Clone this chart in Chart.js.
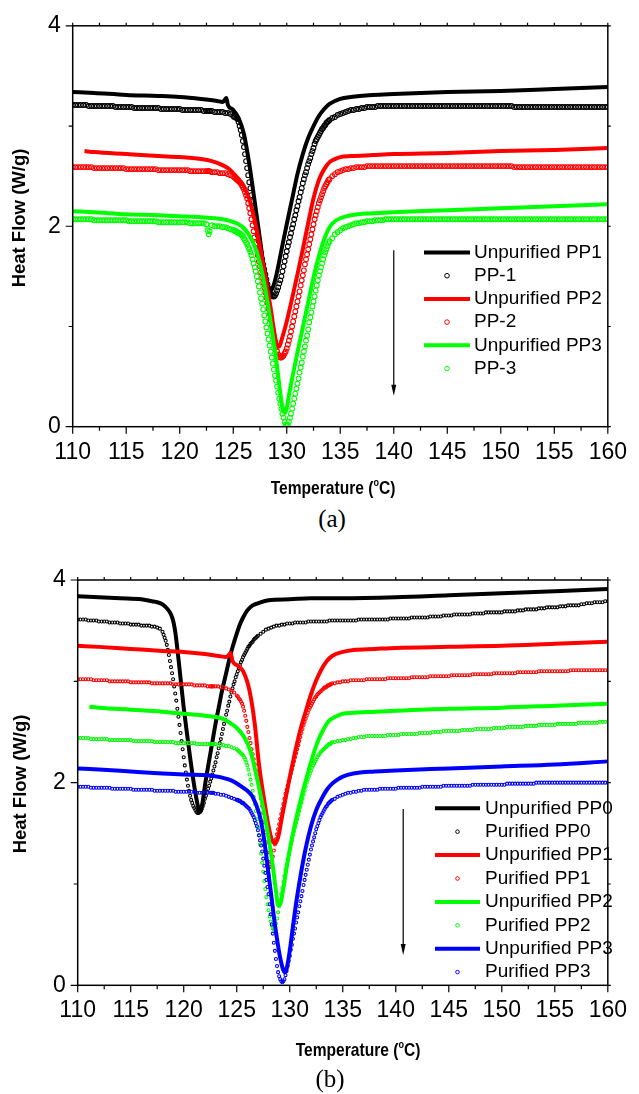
<!DOCTYPE html>
<html>
<head>
<meta charset="utf-8">
<script src="https://cdn.jsdelivr.net/npm/chart.js@4.4.0/dist/chart.umd.min.js"></script>
<style>
  html, body { margin: 0; padding: 0; background: #fff; }
  body { width: 639px; height: 1094px; position: relative; overflow: hidden; }
  canvas { position: absolute; left: 0; }
  #chartA { top: 0; }
  #chartB { top: 550px; }
  .caption { position: absolute; width: 100px; text-align: center; line-height: 30px;
             font: 25px "Liberation Serif", "Times New Roman", serif; color: #000; }
</style>
</head>
<body>
<canvas id="chartA" width="639" height="505"></canvas>
<canvas id="chartB" width="639" height="520"></canvas>
<div class="caption" style="left:282px; top:505px;">(a)</div>
<div class="caption" style="left:280px; top:1065px;">(b)</div>
<script>
// temperature grid used by the circle (measured point) series
const tempFine = [
  110, 110.25, 110.5, 110.75, 111, 111.25, 111.5, 111.75,
  112, 112.25, 112.5, 112.75, 113, 113.25, 113.5, 113.75,
  114, 114.25, 114.5, 114.75, 115, 115.25, 115.5, 115.75,
  116, 116.25, 116.5, 116.75, 117, 117.25, 117.5, 117.75,
  118, 118.25, 118.5, 118.75, 119, 119.25, 119.5, 119.75,
  120, 120.25, 120.5, 120.75, 121, 121.25, 121.5, 121.75,
  122, 122.25, 122.5, 122.6, 122.7, 122.8,
  123, 123.25, 123.5, 123.75, 124, 124.25, 124.5, 124.75, 125,
  125.1, 125.2, 125.3, 125.4, 125.5, 125.6, 125.7, 125.8, 125.9, 126,
  126.1, 126.2, 126.3, 126.4, 126.5, 126.6, 126.7, 126.8, 126.9, 127,
  127.1, 127.2, 127.3, 127.4, 127.5, 127.6, 127.7, 127.8, 127.9, 128,
  128.1, 128.2, 128.3, 128.4, 128.5, 128.6, 128.7, 128.8, 128.9, 129,
  129.1, 129.2, 129.3, 129.4, 129.5, 129.6, 129.7, 129.8, 129.9, 130,
  130.1, 130.2, 130.3, 130.4, 130.5, 130.6, 130.7, 130.8, 130.9, 131,
  131.1, 131.2, 131.3, 131.4, 131.5, 131.6, 131.7, 131.8, 131.9, 132,
  132.1, 132.2, 132.3, 132.4, 132.5, 132.6, 132.7, 132.8, 132.9, 133,
  133.1, 133.2, 133.3, 133.4, 133.5, 133.6, 133.7, 133.8, 133.9, 134,
  134.25, 134.5, 134.75, 135, 135.25, 135.5, 135.75, 136,
  136.25, 136.5, 136.75, 137, 137.25, 137.5, 137.75, 138,
  138.25, 138.5, 138.75, 139, 139.25, 139.5, 139.75, 140,
  140.25, 140.5, 140.75, 141, 141.25, 141.5, 141.75, 142,
  142.25, 142.5, 142.75, 143, 143.25, 143.5, 143.75, 144,
  144.25, 144.5, 144.75, 145, 145.25, 145.5, 145.75, 146,
  146.25, 146.5, 146.75, 147, 147.25, 147.5, 147.75, 148,
  148.25, 148.5, 148.75, 149, 149.25, 149.5, 149.75, 150,
  150.25, 150.5, 150.75, 151, 151.25, 151.5, 151.75, 152,
  152.25, 152.5, 152.75, 153, 153.25, 153.5, 153.75, 154,
  154.25, 154.5, 154.75, 155, 155.25, 155.5, 155.75, 156,
  156.25, 156.5, 156.75, 157, 157.25, 157.5, 157.75, 158,
  158.25, 158.5, 158.75, 159, 159.25, 159.5, 159.75, 160
];

// temperature grid for Purified PP0 (melts earlier)
const tempPP0 = [
  110, 110.25, 110.5, 110.75, 111, 111.25, 111.5, 111.75,
  112, 112.25, 112.5, 112.75, 113, 113.25, 113.5, 113.75,
  114, 114.25, 114.5, 114.75, 115, 115.25, 115.5, 115.75,
  116, 116.25, 116.5, 116.75, 117, 117.25, 117.5, 117.75,
  118,
  118.1, 118.2, 118.3, 118.4, 118.5, 118.6, 118.7, 118.8, 118.9, 119,
  119.1, 119.2, 119.3, 119.4, 119.5, 119.6, 119.7, 119.8, 119.9, 120,
  120.1, 120.2, 120.3, 120.4, 120.5, 120.6, 120.7, 120.8, 120.9, 121,
  121.1, 121.2, 121.3, 121.4, 121.5, 121.6, 121.7, 121.8, 121.9, 122,
  122.1, 122.2, 122.3, 122.4, 122.5, 122.6, 122.7, 122.8, 122.9, 123,
  123.1, 123.2, 123.3, 123.4, 123.5, 123.6, 123.7, 123.8, 123.9, 124,
  124.1, 124.2, 124.3, 124.4, 124.5, 124.6, 124.7, 124.8, 124.9, 125,
  125.1, 125.2, 125.3, 125.4, 125.5, 125.6, 125.7, 125.8, 125.9, 126,
  126.1, 126.2, 126.3, 126.4, 126.5, 126.6, 126.7, 126.8, 126.9, 127,
  127.25, 127.5, 127.75, 128, 128.25, 128.5, 128.75, 129,
  129.25, 129.5, 129.75, 130, 130.25, 130.5, 130.75, 131,
  131.25, 131.5, 131.75, 132, 132.25, 132.5, 132.75, 133,
  133.25, 133.5, 133.75, 134, 134.25, 134.5, 134.75, 135,
  135.25, 135.5, 135.75, 136, 136.25, 136.5, 136.75, 137,
  137.25, 137.5, 137.75, 138, 138.25, 138.5, 138.75, 139,
  139.25, 139.5, 139.75, 140, 140.25, 140.5, 140.75, 141,
  141.25, 141.5, 141.75, 142, 142.25, 142.5, 142.75, 143,
  143.25, 143.5, 143.75, 144, 144.25, 144.5, 144.75, 145,
  145.25, 145.5, 145.75, 146, 146.25, 146.5, 146.75, 147,
  147.25, 147.5, 147.75, 148, 148.25, 148.5, 148.75, 149,
  149.25, 149.5, 149.75, 150, 150.25, 150.5, 150.75, 151,
  151.25, 151.5, 151.75, 152, 152.25, 152.5, 152.75, 153,
  153.25, 153.5, 153.75, 154, 154.25, 154.5, 154.75, 155,
  155.25, 155.5, 155.75, 156, 156.25, 156.5, 156.75, 157,
  157.25, 157.5, 157.75, 158, 158.25, 158.5, 158.75, 159,
  159.25, 159.5, 159.75, 160
];

// ---- chart (a) ----
const unpurifiedPP1a = [
  [110, 3.34], [112, 3.33], [115, 3.31], [118, 3.30], [120, 3.29], [122, 3.27], [123.5, 3.25],
  [124, 3.24], [124.2, 3.26], [124.35, 3.28], [124.5, 3.21], [125, 3.16], [125.5, 3.08], [126, 2.92],
  [126.5, 2.62], [127, 2.25], [127.5, 1.87], [127.8, 1.63], [128, 1.50], [128.3, 1.37], [128.5, 1.36],
  [128.7, 1.39], [129, 1.50], [129.5, 1.76], [130, 2.02], [130.5, 2.27], [131, 2.52], [131.5, 2.72],
  [132, 2.88], [132.5, 3.00], [133, 3.10], [133.5, 3.17], [134, 3.22], [135, 3.27], [136, 3.29],
  [138, 3.31], [140, 3.32], [145, 3.34], [150, 3.35], [155, 3.37], [160, 3.39]
];
const pp1a = [
  3.21, 3.21, 3.21, 3.21, 3.21, 3.21, 3.20, 3.20,
  3.20, 3.20, 3.20, 3.20, 3.20, 3.20, 3.20, 3.20,
  3.19, 3.19, 3.19, 3.19, 3.19, 3.19, 3.19, 3.18,
  3.18, 3.18, 3.18, 3.18, 3.18, 3.18, 3.18, 3.18,
  3.18, 3.17, 3.17, 3.17, 3.17, 3.17, 3.17, 3.17,
  3.17, 3.16, 3.16, 3.16, 3.16, 3.16, 3.16, 3.16,
  3.16, 3.15, 3.15, 3.15, 3.15, 3.15,
  3.15, 3.14, 3.14, 3.14, 3.14, 3.13, 3.13, 3.12, 3.10,
  3.09, 3.09, 3.08, 3.07, 3.04, 3.00, 2.96, 2.91, 2.85, 2.79,
  2.72, 2.65, 2.58, 2.51, 2.44, 2.38, 2.31, 2.25, 2.18, 2.11,
  2.04, 1.98, 1.91, 1.85, 1.79, 1.73, 1.67, 1.62, 1.57, 1.52,
  1.47, 1.42, 1.38, 1.35, 1.32, 1.31, 1.30, 1.30, 1.31, 1.33,
  1.36, 1.39, 1.43, 1.46, 1.50, 1.55, 1.60, 1.65, 1.70, 1.75,
  1.80, 1.84, 1.89, 1.93, 1.98, 2.02, 2.07, 2.11, 2.16, 2.20,
  2.25, 2.29, 2.34, 2.38, 2.43, 2.47, 2.51, 2.54, 2.58, 2.62,
  2.65, 2.68, 2.72, 2.75, 2.78, 2.82, 2.85, 2.87, 2.89, 2.91,
  2.93, 2.95, 2.97, 2.98, 3.00, 3.01, 3.03, 3.04, 3.05, 3.06,
  3.08, 3.09, 3.11, 3.12, 3.13, 3.14, 3.15, 3.16,
  3.16, 3.17, 3.17, 3.18, 3.18, 3.19, 3.19, 3.19,
  3.19, 3.20, 3.20, 3.20, 3.20, 3.20, 3.20, 3.20,
  3.20, 3.20, 3.20, 3.20, 3.20, 3.20, 3.20, 3.20,
  3.20, 3.20, 3.20, 3.20, 3.20, 3.20, 3.20, 3.20,
  3.20, 3.20, 3.20, 3.20, 3.20, 3.20, 3.20, 3.20,
  3.20, 3.20, 3.20, 3.20, 3.20, 3.20, 3.20, 3.20,
  3.20, 3.20, 3.20, 3.20, 3.20, 3.20, 3.20, 3.20,
  3.20, 3.20, 3.20, 3.20, 3.19, 3.19, 3.19, 3.19,
  3.19, 3.19, 3.19, 3.19, 3.19, 3.19, 3.19, 3.19,
  3.19, 3.19, 3.19, 3.19, 3.19, 3.19, 3.19, 3.19,
  3.19, 3.19, 3.19, 3.19, 3.19, 3.19, 3.19, 3.19,
  3.19, 3.19, 3.19, 3.19, 3.19, 3.19, 3.19, 3.19
];
const unpurifiedPP2a = [
  [111.1, 2.75], [112, 2.74], [115, 2.72], [118, 2.70], [120, 2.69], [122, 2.67], [123, 2.65],
  [124, 2.61], [124.5, 2.58], [125, 2.53], [125.5, 2.47], [126, 2.40], [126.5, 2.27], [127, 2.06],
  [127.5, 1.80], [128, 1.50], [128.5, 1.18], [128.8, 0.97], [129.1, 0.81], [129.3, 0.80], [129.5, 0.86],
  [130, 1.05], [130.5, 1.28], [131, 1.52], [131.5, 1.77], [132, 2.03], [132.5, 2.28], [133, 2.46],
  [133.5, 2.57], [134, 2.64], [134.5, 2.67], [135, 2.69], [136, 2.70], [138, 2.71], [140, 2.72],
  [145, 2.73], [150, 2.75], [155, 2.76], [160, 2.78]
];
const pp2a = [
  2.59, 2.59, 2.59, 2.59, 2.59, 2.59, 2.59, 2.59,
  2.58, 2.58, 2.58, 2.58, 2.58, 2.58, 2.58, 2.58,
  2.58, 2.58, 2.58, 2.58, 2.57, 2.57, 2.57, 2.57,
  2.57, 2.57, 2.57, 2.57, 2.57, 2.57, 2.57, 2.57,
  2.56, 2.56, 2.56, 2.56, 2.56, 2.56, 2.56, 2.56,
  2.56, 2.56, 2.56, 2.56, 2.55, 2.55, 2.55, 2.55,
  2.55, 2.55, 2.55, 2.55, 2.55, 2.55,
  2.54, 2.54, 2.54, 2.53, 2.53, 2.53, 2.52, 2.51, 2.50,
  2.49, 2.48, 2.47, 2.46, 2.45, 2.44, 2.43, 2.41, 2.39, 2.37,
  2.34, 2.31, 2.28, 2.23, 2.18, 2.13, 2.07, 2.01, 1.95, 1.89,
  1.83, 1.77, 1.71, 1.65, 1.60, 1.54, 1.49, 1.44, 1.39, 1.34,
  1.29, 1.24, 1.18, 1.13, 1.07, 1.02, 0.96, 0.90, 0.85, 0.80,
  0.75, 0.72, 0.70, 0.69, 0.69, 0.70, 0.71, 0.73, 0.75, 0.78,
  0.82, 0.86, 0.90, 0.95, 1.00, 1.05, 1.10, 1.15, 1.20, 1.25,
  1.30, 1.35, 1.41, 1.46, 1.51, 1.56, 1.62, 1.67, 1.72, 1.77,
  1.82, 1.87, 1.92, 1.97, 2.02, 2.07, 2.11, 2.15, 2.19, 2.23,
  2.26, 2.29, 2.32, 2.35, 2.38, 2.40, 2.42, 2.44, 2.46, 2.47,
  2.50, 2.52, 2.54, 2.55, 2.56, 2.57, 2.57, 2.58,
  2.58, 2.59, 2.59, 2.59, 2.59, 2.60, 2.60, 2.60,
  2.60, 2.60, 2.60, 2.60, 2.60, 2.60, 2.60, 2.60,
  2.60, 2.60, 2.60, 2.60, 2.60, 2.60, 2.60, 2.60,
  2.60, 2.60, 2.60, 2.60, 2.60, 2.60, 2.60, 2.60,
  2.60, 2.60, 2.60, 2.60, 2.60, 2.60, 2.60, 2.60,
  2.60, 2.60, 2.60, 2.60, 2.60, 2.60, 2.60, 2.60,
  2.60, 2.60, 2.60, 2.60, 2.60, 2.60, 2.60, 2.60,
  2.60, 2.60, 2.60, 2.60, 2.59, 2.59, 2.59, 2.59,
  2.59, 2.59, 2.59, 2.59, 2.59, 2.59, 2.59, 2.59,
  2.59, 2.59, 2.59, 2.59, 2.59, 2.59, 2.59, 2.59,
  2.59, 2.59, 2.59, 2.59, 2.59, 2.59, 2.59, 2.59,
  2.59, 2.59, 2.59, 2.59, 2.59, 2.59, 2.59, 2.59
];
const unpurifiedPP3a = [
  [110, 2.15], [112, 2.14], [115, 2.12], [118, 2.11], [120, 2.10], [122, 2.09], [124, 2.07],
  [124.8, 2.05], [125.5, 2.02], [126, 1.98], [126.5, 1.91], [127, 1.80], [127.5, 1.63], [128, 1.37],
  [128.5, 1.04], [129, 0.68], [129.3, 0.42], [129.5, 0.25], [129.7, 0.15], [129.85, 0.14], [130, 0.19],
  [130.2, 0.31], [130.5, 0.48], [131, 0.74], [131.5, 0.99], [132, 1.24], [132.5, 1.49], [133, 1.70],
  [133.5, 1.87], [134, 1.99], [134.5, 2.05], [135, 2.08], [136, 2.11], [138, 2.13], [140, 2.14],
  [145, 2.16], [150, 2.18], [155, 2.20], [160, 2.22]
];
const pp3a = [
  2.07, 2.07, 2.07, 2.07, 2.07, 2.07, 2.07, 2.07,
  2.06, 2.06, 2.06, 2.06, 2.06, 2.06, 2.06, 2.06,
  2.06, 2.06, 2.06, 2.06, 2.06, 2.05, 2.05, 2.05,
  2.05, 2.05, 2.05, 2.05, 2.05, 2.05, 2.05, 2.05,
  2.04, 2.04, 2.04, 2.04, 2.04, 2.04, 2.04, 2.04,
  2.04, 2.04, 2.04, 2.04, 2.03, 2.03, 2.03, 2.03,
  2.03, 2.03, 2.02, 1.96, 1.92, 1.95,
  2.01, 2.00, 2.00, 2.00, 1.99, 1.99, 1.98, 1.97, 1.96,
  1.96, 1.95, 1.95, 1.94, 1.93, 1.93, 1.92, 1.91, 1.90, 1.88,
  1.86, 1.84, 1.82, 1.79, 1.77, 1.74, 1.71, 1.67, 1.63, 1.59,
  1.55, 1.50, 1.45, 1.40, 1.34, 1.28, 1.23, 1.17, 1.11, 1.05,
  0.99, 0.93, 0.87, 0.81, 0.75, 0.69, 0.63, 0.57, 0.51, 0.46,
  0.40, 0.34, 0.28, 0.23, 0.18, 0.13, 0.09, 0.05, 0.02, 0.01,
  0.02, 0.05, 0.09, 0.13, 0.18, 0.23, 0.28, 0.33, 0.38, 0.43,
  0.48, 0.54, 0.59, 0.64, 0.70, 0.75, 0.80, 0.86, 0.91, 0.97,
  1.04, 1.09, 1.14, 1.20, 1.25, 1.30, 1.36, 1.41, 1.46, 1.51,
  1.55, 1.59, 1.63, 1.67, 1.71, 1.74, 1.77, 1.80, 1.83, 1.85,
  1.88, 1.92, 1.94, 1.96, 1.98, 1.99, 2.00, 2.01,
  2.02, 2.03, 2.03, 2.04, 2.04, 2.05, 2.05, 2.05,
  2.06, 2.06, 2.06, 2.06, 2.07, 2.07, 2.07, 2.07,
  2.07, 2.07, 2.07, 2.07, 2.07, 2.07, 2.07, 2.07,
  2.07, 2.07, 2.07, 2.07, 2.07, 2.07, 2.07, 2.07,
  2.07, 2.07, 2.07, 2.07, 2.07, 2.07, 2.07, 2.07,
  2.07, 2.07, 2.07, 2.07, 2.07, 2.07, 2.07, 2.07,
  2.07, 2.07, 2.07, 2.07, 2.07, 2.07, 2.07, 2.07,
  2.07, 2.07, 2.07, 2.07, 2.07, 2.07, 2.07, 2.07,
  2.07, 2.07, 2.07, 2.07, 2.07, 2.07, 2.07, 2.07,
  2.07, 2.07, 2.07, 2.07, 2.07, 2.07, 2.07, 2.07,
  2.07, 2.07, 2.07, 2.07, 2.07, 2.07, 2.07, 2.07,
  2.07, 2.07, 2.07, 2.07, 2.07, 2.07, 2.07, 2.07
];

// ---- chart (b) ----
const unpurifiedPP0b = [
  [110, 3.84], [112, 3.83], [114, 3.82], [116, 3.81], [117, 3.79], [117.5, 3.78], [118, 3.76],
  [118.5, 3.71], [118.8, 3.66], [119, 3.60], [119.1, 3.55], [119.2, 3.49], [119.3, 3.41], [119.4, 3.32],
  [119.6, 3.13], [119.8, 2.93], [120, 2.74], [120.3, 2.49], [120.6, 2.25], [120.9, 2.03], [121.2, 1.84],
  [121.4, 1.74], [121.5, 1.71], [121.6, 1.72], [121.8, 1.82], [122, 1.97], [122.3, 2.16], [122.6, 2.34],
  [123, 2.58], [123.3, 2.74], [123.6, 2.90], [124, 3.08], [124.4, 3.26], [124.7, 3.37], [125, 3.47],
  [125.3, 3.56], [125.6, 3.63], [126, 3.70], [126.5, 3.75], [127, 3.77], [128, 3.80], [130, 3.81],
  [132, 3.82], [135, 3.82], [140, 3.83], [145, 3.85], [150, 3.87], [155, 3.89], [160, 3.91]
];
const purifiedPP0 = [
  3.61, 3.61, 3.61, 3.61, 3.60, 3.60, 3.60, 3.60,
  3.59, 3.59, 3.59, 3.59, 3.58, 3.58, 3.58, 3.58,
  3.57, 3.57, 3.57, 3.57, 3.56, 3.56, 3.56, 3.56,
  3.55, 3.55, 3.55, 3.55, 3.54, 3.54, 3.53, 3.52,
  3.49,
  3.46, 3.43, 3.40, 3.36, 3.31, 3.26, 3.20, 3.14, 3.08, 3.02,
  2.95, 2.88, 2.81, 2.73, 2.65, 2.57, 2.49, 2.41, 2.33, 2.25,
  2.17, 2.10, 2.03, 1.97, 1.92, 1.87, 1.83, 1.80, 1.77, 1.75,
  1.73, 1.71, 1.70, 1.70, 1.71, 1.72, 1.74, 1.77, 1.80, 1.84,
  1.87, 1.91, 1.94, 1.97, 2.01, 2.04, 2.08, 2.12, 2.16, 2.20,
  2.25, 2.29, 2.34, 2.39, 2.43, 2.48, 2.53, 2.58, 2.62, 2.67,
  2.71, 2.76, 2.80, 2.85, 2.89, 2.93, 2.97, 3.00, 3.04, 3.07,
  3.10, 3.13, 3.16, 3.19, 3.21, 3.24, 3.26, 3.28, 3.30, 3.32,
  3.34, 3.35, 3.37, 3.38, 3.39, 3.41, 3.42, 3.43, 3.44, 3.45,
  3.47, 3.49, 3.51, 3.52, 3.53, 3.54, 3.55, 3.55,
  3.56, 3.56, 3.57, 3.57, 3.57, 3.58, 3.58, 3.58,
  3.58, 3.58, 3.59, 3.59, 3.59, 3.59, 3.59, 3.59,
  3.59, 3.59, 3.60, 3.60, 3.60, 3.60, 3.60, 3.60,
  3.60, 3.60, 3.60, 3.60, 3.60, 3.61, 3.61, 3.61,
  3.61, 3.61, 3.61, 3.61, 3.61, 3.61, 3.61, 3.61,
  3.61, 3.62, 3.62, 3.62, 3.62, 3.62, 3.62, 3.62,
  3.62, 3.63, 3.63, 3.63, 3.63, 3.63, 3.63, 3.63,
  3.64, 3.64, 3.64, 3.64, 3.64, 3.65, 3.65, 3.65,
  3.65, 3.66, 3.66, 3.66, 3.66, 3.66, 3.66, 3.66,
  3.67, 3.67, 3.67, 3.67, 3.67, 3.68, 3.68, 3.68,
  3.68, 3.68, 3.68, 3.68, 3.69, 3.69, 3.69, 3.69,
  3.69, 3.70, 3.70, 3.70, 3.71, 3.71, 3.71, 3.71,
  3.71, 3.72, 3.72, 3.72, 3.73, 3.73, 3.73, 3.73,
  3.73, 3.74, 3.74, 3.74, 3.75, 3.75, 3.75, 3.75,
  3.75, 3.76, 3.76, 3.77, 3.77, 3.77, 3.78, 3.78,
  3.78, 3.78, 3.79, 3.79
];
const unpurifiedPP1b = [
  [110, 3.35], [112, 3.34], [115, 3.32], [118, 3.30], [120, 3.29], [122, 3.27], [123.3, 3.25],
  [124, 3.24], [124.25, 3.26], [124.42, 3.28], [124.6, 3.20], [125, 3.16], [125.6, 3.10], [126.2, 2.91],
  [126.7, 2.58], [127.1, 2.18], [127.6, 1.82], [128, 1.57], [128.3, 1.44], [128.6, 1.40], [128.9, 1.46],
  [129.3, 1.68], [129.9, 2.00], [130.5, 2.30], [131, 2.52], [131.5, 2.70], [132, 2.87], [132.5, 3.01],
  [133, 3.12], [133.5, 3.20], [134, 3.25], [135, 3.29], [136, 3.31], [138, 3.32], [140, 3.33],
  [145, 3.34], [150, 3.35], [155, 3.37], [160, 3.39]
];
const purifiedPP1 = [
  3.02, 3.02, 3.02, 3.02, 3.02, 3.02, 3.01, 3.01,
  3.01, 3.01, 3.01, 3.01, 3.00, 3.00, 3.00, 3.00,
  3.00, 3.00, 3.00, 3.00, 2.99, 2.99, 2.99, 2.99,
  2.99, 2.99, 2.99, 2.99, 2.98, 2.98, 2.98, 2.98,
  2.98, 2.98, 2.98, 2.98, 2.97, 2.97, 2.97, 2.97,
  2.97, 2.97, 2.97, 2.97, 2.96, 2.96, 2.96, 2.96,
  2.96, 2.95, 2.95, 2.95, 2.95, 2.95,
  2.95, 2.95, 2.94, 2.94, 2.93, 2.92, 2.91, 2.89, 2.86,
  2.85, 2.83, 2.82, 2.80, 2.78, 2.75, 2.71, 2.66, 2.61, 2.55,
  2.50, 2.44, 2.39, 2.33, 2.28, 2.23, 2.18, 2.12, 2.07, 2.02,
  1.96, 1.90, 1.84, 1.77, 1.70, 1.61, 1.51, 1.41, 1.31, 1.22,
  1.17, 1.17, 1.21, 1.27, 1.33, 1.39, 1.44, 1.49, 1.54, 1.59,
  1.64, 1.69, 1.74, 1.79, 1.84, 1.89, 1.93, 1.97, 2.01, 2.05,
  2.09, 2.13, 2.17, 2.21, 2.25, 2.29, 2.33, 2.37, 2.41, 2.45,
  2.49, 2.53, 2.57, 2.60, 2.63, 2.66, 2.69, 2.72, 2.74, 2.76,
  2.78, 2.80, 2.82, 2.84, 2.85, 2.87, 2.88, 2.89, 2.90, 2.91,
  2.92, 2.93, 2.94, 2.94, 2.95, 2.96, 2.96, 2.97, 2.97, 2.98,
  2.98, 2.99, 2.99, 3.00, 3.00, 3.00, 3.01, 3.01,
  3.01, 3.01, 3.01, 3.01, 3.02, 3.02, 3.02, 3.02,
  3.02, 3.02, 3.02, 3.02, 3.03, 3.03, 3.03, 3.03,
  3.03, 3.03, 3.03, 3.03, 3.03, 3.04, 3.04, 3.04,
  3.04, 3.04, 3.04, 3.04, 3.05, 3.05, 3.05, 3.05,
  3.05, 3.05, 3.05, 3.05, 3.06, 3.06, 3.06, 3.06,
  3.06, 3.06, 3.06, 3.06, 3.07, 3.07, 3.07, 3.07,
  3.07, 3.07, 3.07, 3.07, 3.08, 3.08, 3.08, 3.08,
  3.08, 3.08, 3.08, 3.08, 3.08, 3.09, 3.09, 3.09,
  3.09, 3.09, 3.09, 3.09, 3.09, 3.10, 3.10, 3.10,
  3.10, 3.10, 3.10, 3.10, 3.10, 3.10, 3.10, 3.10,
  3.10, 3.11, 3.11, 3.11, 3.11, 3.11, 3.11, 3.11,
  3.11, 3.11, 3.11, 3.11, 3.11, 3.11, 3.11, 3.11
];
const unpurifiedPP2b = [
  [111.1, 2.75], [112, 2.74], [115, 2.72], [118, 2.70], [120, 2.68], [122, 2.66], [123.7, 2.63],
  [124.5, 2.58], [125, 2.54], [125.7, 2.45], [126.3, 2.31], [126.9, 2.05], [127.4, 1.80], [127.9, 1.52],
  [128.4, 1.18], [128.7, 0.93], [128.9, 0.79], [129.1, 0.80], [129.4, 0.96], [129.8, 1.22], [130.3, 1.50],
  [130.8, 1.73], [131.3, 1.94], [131.7, 2.09], [132.2, 2.27], [132.7, 2.42], [133.2, 2.53], [133.7, 2.61],
  [134.3, 2.65], [135, 2.68], [136, 2.69], [138, 2.70], [140, 2.71], [145, 2.73], [150, 2.74],
  [155, 2.76], [160, 2.78]
];
const purifiedPP2 = [
  2.44, 2.44, 2.44, 2.44, 2.44, 2.43, 2.43, 2.43,
  2.43, 2.43, 2.43, 2.43, 2.42, 2.42, 2.42, 2.42,
  2.42, 2.42, 2.42, 2.42, 2.42, 2.41, 2.41, 2.41,
  2.41, 2.41, 2.41, 2.41, 2.41, 2.40, 2.40, 2.40,
  2.40, 2.40, 2.40, 2.40, 2.40, 2.39, 2.39, 2.39,
  2.39, 2.39, 2.39, 2.39, 2.39, 2.38, 2.38, 2.38,
  2.38, 2.38, 2.38, 2.38, 2.38, 2.38,
  2.38, 2.37, 2.37, 2.37, 2.36, 2.36, 2.35, 2.34, 2.33,
  2.32, 2.31, 2.30, 2.29, 2.28, 2.27, 2.25, 2.23, 2.20, 2.17,
  2.13, 2.08, 2.03, 1.98, 1.92, 1.86, 1.79, 1.72, 1.64, 1.56,
  1.48, 1.39, 1.30, 1.21, 1.12, 1.03, 0.95, 0.87, 0.80, 0.74,
  0.68, 0.63, 0.59, 0.56, 0.55, 0.57, 0.61, 0.66, 0.72, 0.78,
  0.84, 0.90, 0.96, 1.02, 1.08, 1.14, 1.19, 1.24, 1.29, 1.34,
  1.39, 1.43, 1.48, 1.52, 1.56, 1.60, 1.64, 1.68, 1.72, 1.76,
  1.80, 1.84, 1.88, 1.92, 1.96, 2.00, 2.03, 2.06, 2.09, 2.12,
  2.15, 2.17, 2.19, 2.21, 2.23, 2.25, 2.27, 2.28, 2.30, 2.31,
  2.32, 2.33, 2.34, 2.35, 2.36, 2.37, 2.38, 2.38, 2.39, 2.40,
  2.40, 2.41, 2.41, 2.42, 2.42, 2.43, 2.43, 2.44,
  2.44, 2.45, 2.45, 2.45, 2.46, 2.46, 2.46, 2.46,
  2.46, 2.46, 2.46, 2.46, 2.47, 2.47, 2.47, 2.47,
  2.47, 2.48, 2.48, 2.48, 2.48, 2.48, 2.48, 2.48,
  2.49, 2.49, 2.49, 2.49, 2.49, 2.50, 2.50, 2.50,
  2.50, 2.51, 2.51, 2.51, 2.51, 2.51, 2.51, 2.51,
  2.52, 2.52, 2.52, 2.52, 2.52, 2.53, 2.53, 2.53,
  2.53, 2.53, 2.53, 2.53, 2.54, 2.54, 2.54, 2.54,
  2.54, 2.55, 2.55, 2.55, 2.55, 2.55, 2.55, 2.55,
  2.56, 2.56, 2.56, 2.56, 2.56, 2.57, 2.57, 2.57,
  2.57, 2.57, 2.57, 2.57, 2.58, 2.58, 2.58, 2.58,
  2.58, 2.58, 2.58, 2.58, 2.59, 2.59, 2.59, 2.59,
  2.59, 2.59, 2.59, 2.59, 2.60, 2.60, 2.60, 2.60
];
const unpurifiedPP3b = [
  [110, 2.14], [112, 2.13], [115, 2.11], [118, 2.09], [120, 2.08], [122.5, 2.07], [124.3, 2.03],
  [124.9, 2.00], [125.6, 1.95], [126.1, 1.91], [126.5, 1.86], [127.1, 1.70], [127.4, 1.56], [127.7, 1.35],
  [128, 1.10], [128.3, 0.85], [128.6, 0.60], [128.9, 0.39], [129.1, 0.27], [129.3, 0.18], [129.5, 0.13],
  [129.7, 0.16], [130, 0.34], [130.3, 0.58], [130.6, 0.81], [131, 1.07], [131.5, 1.35], [132, 1.57],
  [132.5, 1.73], [133, 1.84], [133.5, 1.93], [134, 1.99], [134.5, 2.03], [135, 2.06], [136, 2.09],
  [138, 2.11], [140, 2.12], [145, 2.14], [150, 2.16], [155, 2.18], [160, 2.21]
];
const purifiedPP3 = [
  1.96, 1.96, 1.96, 1.96, 1.96, 1.95, 1.95, 1.95,
  1.95, 1.95, 1.95, 1.95, 1.95, 1.94, 1.94, 1.94,
  1.94, 1.94, 1.94, 1.94, 1.94, 1.93, 1.93, 1.93,
  1.93, 1.93, 1.93, 1.93, 1.93, 1.92, 1.92, 1.92,
  1.92, 1.92, 1.92, 1.92, 1.92, 1.91, 1.91, 1.91,
  1.91, 1.91, 1.91, 1.91, 1.91, 1.90, 1.90, 1.90,
  1.90, 1.90, 1.90, 1.90, 1.90, 1.90,
  1.89, 1.89, 1.88, 1.88, 1.87, 1.86, 1.85, 1.84, 1.83,
  1.83, 1.82, 1.82, 1.81, 1.80, 1.80, 1.79, 1.78, 1.77, 1.76,
  1.75, 1.74, 1.72, 1.70, 1.68, 1.66, 1.63, 1.60, 1.57, 1.53,
  1.48, 1.43, 1.38, 1.32, 1.25, 1.18, 1.11, 1.04, 0.97, 0.90,
  0.80, 0.70, 0.60, 0.51, 0.42, 0.34, 0.26, 0.19, 0.13, 0.09,
  0.06, 0.04, 0.03, 0.04, 0.06, 0.10, 0.14, 0.19, 0.24, 0.29,
  0.35, 0.40, 0.46, 0.51, 0.56, 0.62, 0.67, 0.72, 0.78, 0.83,
  0.88, 0.93, 0.99, 1.04, 1.09, 1.14, 1.19, 1.24, 1.29, 1.34,
  1.38, 1.42, 1.46, 1.50, 1.54, 1.57, 1.60, 1.63, 1.66, 1.68,
  1.70, 1.72, 1.74, 1.76, 1.77, 1.79, 1.80, 1.81, 1.82, 1.83,
  1.84, 1.86, 1.87, 1.88, 1.89, 1.90, 1.90, 1.91,
  1.91, 1.92, 1.92, 1.93, 1.93, 1.93, 1.93, 1.93,
  1.93, 1.94, 1.94, 1.94, 1.94, 1.94, 1.94, 1.94,
  1.95, 1.95, 1.95, 1.95, 1.95, 1.95, 1.95, 1.95,
  1.95, 1.96, 1.96, 1.96, 1.96, 1.96, 1.96, 1.96,
  1.96, 1.97, 1.97, 1.97, 1.97, 1.97, 1.97, 1.97,
  1.97, 1.97, 1.97, 1.97, 1.98, 1.98, 1.98, 1.98,
  1.98, 1.98, 1.98, 1.98, 1.98, 1.98, 1.98, 1.98,
  1.98, 1.99, 1.99, 1.99, 1.99, 1.99, 1.99, 1.99,
  1.99, 1.99, 1.99, 1.99, 2.00, 2.00, 2.00, 2.00,
  2.00, 2.00, 2.00, 2.00, 2.00, 2.00, 2.00, 2.00,
  2.00, 2.00, 2.00, 2.00, 2.00, 2.00, 2.00, 2.00,
  2.00, 2.00, 2.00, 2.00, 2.00, 2.00, 2.00, 2.00
];

const X_TITLE = ['Temperature (', 'o', 'C)'];
const Y_TITLE = 'Heat Flow (W/g)';

const BLACK = '#000000', RED = '#ff0000', GREEN = '#00ff00', BLUE = '#0000ff';
const FONT = '"Liberation Sans", Arial, sans-serif';

function lineSet(label, pairs, color) {
  return {
    label, showLine: true,
    data: pairs.map(([x, y]) => ({ x, y })),
    borderColor: color, borderWidth: 4, pointRadius: 0,
    cubicInterpolationMode: 'monotone', fill: false,
  };
}

function circleSet(label, temps, values, color, radius) {
  return {
    label, showLine: false,
    data: temps.map((x, i) => ({ x, y: values[i] })),
    borderColor: color, backgroundColor: 'rgba(0,0,0,0)',
    pointRadius: radius, pointBorderWidth: 1.1,
    pointBorderColor: color, pointBackgroundColor: 'rgba(0,0,0,0)',
  };
}

// axis frame with outward ticks on all four sides
const framePlugin = {
  id: 'frame',
  afterDatasetsDraw(chart) {
    const { ctx, chartArea: a, scales: { x, y } } = chart;
    ctx.save();
    ctx.strokeStyle = '#000';
    ctx.lineWidth = 1.5;
    ctx.strokeRect(a.left, a.top, a.right - a.left, a.bottom - a.top);
    ctx.lineWidth = 1.2;
    ctx.beginPath();
    x.ticks.forEach(t => {
      const px = x.getPixelForValue(t.value);
      const major = t.value % 5 === 0;
      ctx.moveTo(px, a.bottom); ctx.lineTo(px, a.bottom + (major ? 7 : 4));
      ctx.moveTo(px, a.top); ctx.lineTo(px, a.top - 3);
    });
    y.ticks.forEach(t => {
      const py = y.getPixelForValue(t.value);
      const major = t.value % 2 === 0;
      ctx.moveTo(a.left, py); ctx.lineTo(a.left - (major ? 7 : 4), py);
      ctx.moveTo(a.right, py); ctx.lineTo(a.right + 3, py);
    });
    ctx.stroke();
    ctx.restore();
  }
};

// legend inside the plot + the downward arrow
const legendPlugin = {
  id: 'boxLegend',
  afterDraw(chart, args, o) {
    const { ctx, chartArea: a, scales: { x, y } } = chart;
    ctx.save();
    ctx.font = `${o.fontSize}px ${FONT}`;
    ctx.textBaseline = 'middle';
    ctx.textAlign = 'left';
    ctx.fillStyle = '#000';
    chart.data.datasets.forEach((ds, i) => {
      const ry = a.top + o.top + i * o.rowHeight;
      const x0 = a.left + o.left;
      ctx.beginPath();
      if (ds.showLine) {
        ctx.strokeStyle = ds.borderColor; ctx.lineWidth = ds.borderWidth;
        ctx.moveTo(x0, ry); ctx.lineTo(x0 + o.lineLength, ry);
      } else {
        ctx.strokeStyle = ds.pointBorderColor; ctx.lineWidth = 1;
        ctx.arc(x0 + o.lineLength / 2, ry, o.markerRadius, 0, Math.PI * 2);
      }
      ctx.stroke();
      ctx.fillText(ds.label, x0 + o.lineLength + o.gap, ry);
    });
    const ax = x.getPixelForValue(o.arrow.x);
    const y0 = y.getPixelForValue(o.arrow.from), y1 = y.getPixelForValue(o.arrow.to);
    ctx.strokeStyle = '#000'; ctx.lineWidth = 1.2;
    ctx.beginPath(); ctx.moveTo(ax, y0); ctx.lineTo(ax, y1 - 8); ctx.stroke();
    ctx.beginPath();
    ctx.moveTo(ax - 2.5, y1 - 11); ctx.lineTo(ax + 2.5, y1 - 11); ctx.lineTo(ax, y1);
    ctx.closePath(); ctx.fill();
    ctx.restore();
  }
};

const titlePlugin = {
  id: 'axisTitles',
  afterDraw(chart, args, o) {
    const ctx = chart.ctx;
    ctx.save();
    ctx.fillStyle = '#000';
    ctx.translate(o.yX, o.yY);
    ctx.rotate(-Math.PI / 2);
    ctx.font = `bold 18.5px ${FONT}`;
    ctx.textAlign = 'center';
    ctx.textBaseline = 'middle';
    ctx.fillText(Y_TITLE, 0, 0);
    ctx.restore();

    ctx.save();
    ctx.fillStyle = '#000';
    ctx.translate(o.xX, o.xY);
    ctx.scale(0.82, 1);
    const big = `bold 19px ${FONT}`, small = `bold 11px ${FONT}`;
    ctx.font = big;
    const w1 = ctx.measureText(X_TITLE[0]).width, w3 = ctx.measureText(X_TITLE[2]).width;
    ctx.font = small;
    const w2 = ctx.measureText(X_TITLE[1]).width;
    let cx = -(w1 + w2 + w3) / 2;
    ctx.textAlign = 'left';
    ctx.textBaseline = 'alphabetic';
    ctx.font = big; ctx.fillText(X_TITLE[0], cx, 7); cx += w1;
    ctx.font = small; ctx.fillText(X_TITLE[1], cx, -1); cx += w2;
    ctx.font = big; ctx.fillText(X_TITLE[2], cx, 7);
    ctx.restore();
  }
};

function makeChart(id, datasets, cfg) {
  const n = datasets.length;
  datasets.forEach((d, i) => { d.order = n - i; });
  return new Chart(document.getElementById(id), {
    type: 'line',
    data: { datasets },
    options: {
      responsive: false, animation: false, events: [],
      layout: { padding: { top: cfg.padTop, right: cfg.padRight, left: 0, bottom: 0 } },
      plugins: {
        legend: { display: false }, tooltip: { enabled: false },
        boxLegend: cfg.legend, axisTitles: cfg.titles,
      },
      scales: {
        x: {
          type: 'linear', min: 110, max: 160,
          grid: { display: false, drawTicks: false }, border: { display: false },
          ticks: {
            stepSize: 2.5, autoSkip: false, maxRotation: 0, padding: 12, color: '#000',
            font: { family: FONT, size: 23 }, callback: v => (v % 5 === 0 ? v : ''),
          },
          afterFit: s => { s.height = cfg.xAxisHeight; },
        },
        y: {
          min: 0, max: 4,
          grid: { display: false, drawTicks: false }, border: { display: false },
          ticks: {
            stepSize: 1, padding: 12, color: '#000',
            font: { family: FONT, size: 23 }, callback: v => (v % 2 === 0 ? v : ''),
          },
          afterFit: s => { s.width = cfg.yAxisWidth; },
        },
      },
    },
    plugins: [framePlugin, legendPlugin, titlePlugin],
  });
}

makeChart('chartA', [
  lineSet('Unpurified PP1', unpurifiedPP1a, BLACK),
  circleSet('PP-1', tempFine, pp1a, BLACK, 2.4),
  lineSet('Unpurified PP2', unpurifiedPP2a, RED),
  circleSet('PP-2', tempFine, pp2a, RED, 2.4),
  lineSet('Unpurified PP3', unpurifiedPP3a, GREEN),
  circleSet('PP-3', tempFine, pp3a, GREEN, 2.4),
], {
  padTop: 24, padRight: 23.5, yAxisWidth: 72.7, xAxisHeight: 78.3,
  legend: { left: 351.3, top: 226.7, rowHeight: 23.2, lineLength: 46, gap: 4, markerRadius: 2.3, fontSize: 19,
            arrow: { x: 140, from: 1.76, to: 0.31 } },
  titles: { yX: 20, yY: 218, xX: 333, xY: 487 },
});

makeChart('chartB', [
  lineSet('Unpurified PP0', unpurifiedPP0b, BLACK),
  circleSet('Purified PP0', tempPP0, purifiedPP0, BLACK, 1.5),
  lineSet('Unpurified PP1', unpurifiedPP1b, RED),
  circleSet('Purified PP1', tempFine, purifiedPP1, RED, 1.5),
  lineSet('Unpurified PP2', unpurifiedPP2b, GREEN),
  circleSet('Purified PP2', tempFine, purifiedPP2, GREEN, 1.5),
  lineSet('Unpurified PP3', unpurifiedPP3b, BLUE),
  circleSet('Purified PP3', tempFine, purifiedPP3, BLUE, 1.5),
], {
  padTop: 30, padRight: 18.3, yAxisWidth: 77.7, xAxisHeight: 84.7,
  legend: { left: 357.3, top: 228.3, rowHeight: 23.4, lineLength: 45, gap: 5, markerRadius: 1.8, fontSize: 19,
            arrow: { x: 140.7, from: 1.74, to: 0.30 } },
  titles: { yX: 21, yY: 234, xX: 358, xY: 499 },
});
</script>
</body>
</html>
